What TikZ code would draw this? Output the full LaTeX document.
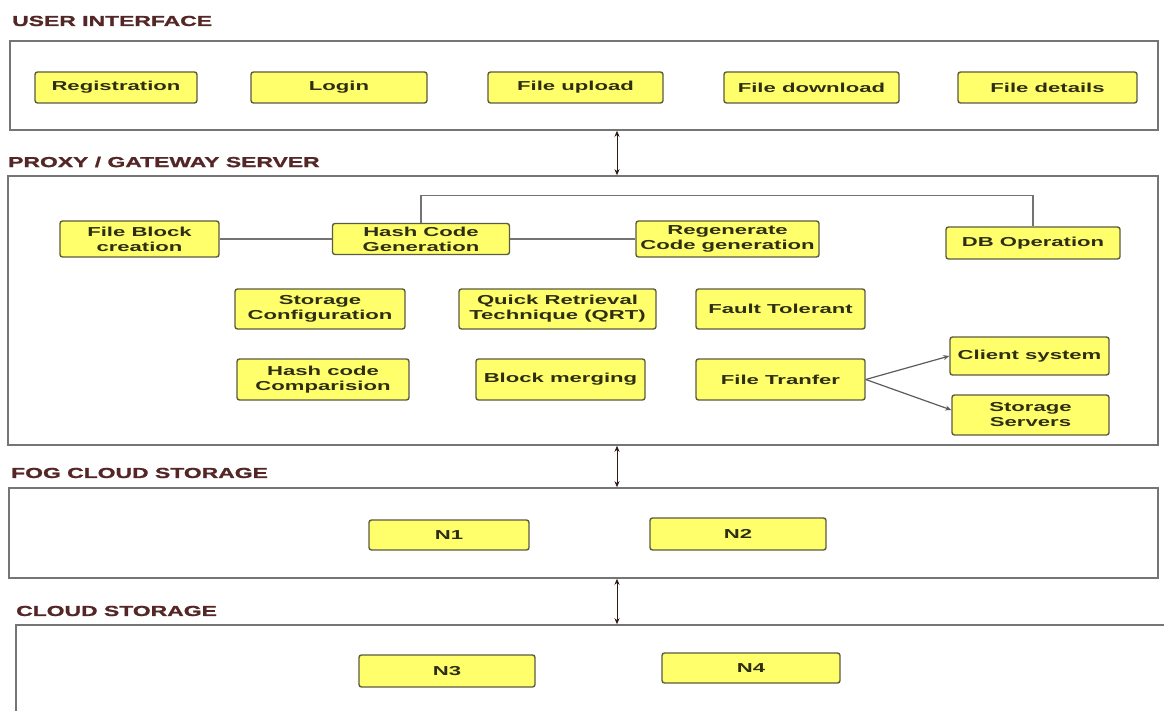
\documentclass[tikz,border=0pt]{standalone}
\usepackage{fontspec}
\usetikzlibrary{arrows.meta}
\newfontfamily\unitfont{Liberation Sans}[FakeStretch=1.7]
\newfontfamily\headfont{Liberation Sans}[FakeStretch=1.58,FakeBold=1.2]
\definecolor{headred}{rgb}{.33,.15,.15}
\definecolor{unityellow}{rgb}{1,1,.42}
\definecolor{unitborder}{rgb}{.36,.36,.26}
\definecolor{unittext}{rgb}{.18,.18,.08}
\definecolor{framegray}{rgb}{.46,.46,.46}
\definecolor{linkgray}{rgb}{.45,.45,.45}

\tikzset{
  layer/.style={draw=framegray,line width=1.6pt,inner sep=0pt},
  unit/.style={draw=unitborder,fill=unityellow,rounded corners=2.5pt,line width=1.4pt,
    inner sep=0pt,align=center,text=unittext,
    font=\unitfont\bfseries\fontsize{13}{15}\selectfont},
  heading/.style={anchor=west,inner sep=0pt,text=headred,
    font=\headfont\bfseries\fontsize{14.5}{16}\selectfont},
  link/.style={draw=linkgray,line width=1.4pt},
  updown/.style={{Stealth[length=6pt,width=5pt]}-{Stealth[length=6pt,width=5pt]},draw=headred!60!black,line width=.8pt},
  sendto/.style={-{Stealth[length=6pt,width=5pt]},draw=linkgray!80!black,line width=1.2pt}
}

\begin{document}
\begin{tikzpicture}[x=1pt,y=-1pt]
\useasboundingbox (0,0) rectangle (1164,711);
\clip (0,0) rectangle (1164,711);
\fill[white] (0,0) rectangle (1164,711);

%% layers
\node[heading] (tui) at (12,21) {USER INTERFACE};
\node[layer,minimum width=1148pt,minimum height=89pt] (ui) at (584,85.5) {};
\node[heading] (tproxy) at (8,162) {PROXY / GATEWAY SERVER};
\node[layer,minimum width=1150pt,minimum height=269pt] (proxy) at (583,310.5) {};
\node[heading] (tfog) at (11,473) {FOG CLOUD STORAGE};
\node[layer,minimum width=1149pt,minimum height=90pt] (fog) at (583.5,533) {};
\node[heading] (tcloud) at (16,611) {CLOUD STORAGE};
\node[layer,minimum width=1164pt,minimum height=105pt] (cloud) at (598,677.5) {};

%% user interface
\node[unit,minimum width=162pt,minimum height=31pt] (reg) at (116,87.5) {Registration};
\node[unit,minimum width=176pt,minimum height=31pt] (login) at (339,87.5) {Login};
\node[unit,minimum width=175pt,minimum height=31pt] (upl) at (575.5,87.5) {File upload};
\node[unit,minimum width=175pt,minimum height=31pt] (dwn) at (811.5,87.5) {File download};
\node[unit,minimum width=179pt,minimum height=31pt] (det) at (1047.5,87.5) {File details};

%% proxy / gateway
\node[unit,minimum width=159pt,minimum height=36pt] (fbc) at (139.5,239) {File Block\\creation};
\node[unit,minimum width=177pt,minimum height=31pt] (hcg) at (421,239) {Hash Code\\Generation};
\node[unit,minimum width=183pt,minimum height=36pt] (rcg) at (727.5,239) {Regenerate\\Code generation};
\node[unit,minimum width=174pt,minimum height=32pt] (dbo) at (1033,243) {DB Operation};
\node[unit,minimum width=170pt,minimum height=40pt] (stc) at (320,309) {Storage\\Configuration};
\node[unit,minimum width=197pt,minimum height=40pt] (qrt) at (557.5,309) {Quick Retrieval\\Technique (QRT)};
\node[unit,minimum width=169pt,minimum height=40pt] (flt) at (780.5,309) {Fault Tolerant};
\node[unit,minimum width=172pt,minimum height=41pt] (hcc) at (323,379.5) {Hash code\\Comparision};
\node[unit,minimum width=169pt,minimum height=41pt] (blm) at (560.5,379.5) {Block merging};
\node[unit,minimum width=169pt,minimum height=41pt] (ftr) at (780.5,379.5) {File Tranfer};
\node[unit,minimum width=159pt,minimum height=38pt] (cls) at (1029.5,356) {Client system};
\node[unit,minimum width=157pt,minimum height=40pt] (sts) at (1030.5,415) {Storage\\Servers};

\draw[link] (fbc) -- (hcg);
\draw[link] (hcg) -- (rcg);
\draw[link] (hcg.north) -- ++(0,-27) -| (dbo.north);
\draw[sendto] (ftr.east) -- (cls.west);
\draw[sendto] (ftr.east) -- ([yshift=5pt]sts.west);

%% fog and cloud
\node[unit,minimum width=160pt,minimum height=30pt] (n1) at (449,535) {N1};
\node[unit,minimum width=176pt,minimum height=32pt] (n2) at (738,534) {N2};
\node[unit,minimum width=176pt,minimum height=32pt] (n3) at (447,671) {N3};
\node[unit,minimum width=178pt,minimum height=30pt] (n4) at (751,668) {N4};

%% between layers
\coordinate (axis) at (617,0);
\draw[updown] (axis |- ui.south) -- (axis |- proxy.north);
\draw[updown] (axis |- proxy.south) -- (axis |- fog.north);
\draw[updown] (axis |- fog.south) -- (axis |- cloud.north);

\end{tikzpicture}
\end{document}
